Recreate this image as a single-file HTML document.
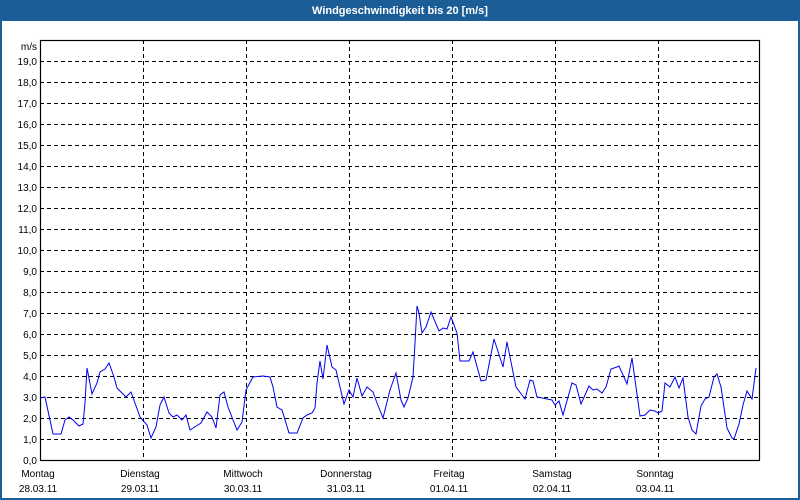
<!DOCTYPE html>
<html><head><meta charset="utf-8"><style>
html,body{margin:0;padding:0;background:#fff}
svg{display:block;font-family:"Liberation Sans",sans-serif}
</style></head><body>
<svg width="800" height="500" viewBox="0 0 800 500" xmlns="http://www.w3.org/2000/svg">
<rect x="0" y="0" width="800" height="500" fill="#1b5e97"/>
<rect x="2" y="21" width="796" height="477" fill="#fff"/>
<text x="400" y="14" fill="#fff" font-size="11" font-weight="bold" text-anchor="middle">Windgeschwindigkeit bis 20 [m/s]</text>
<g stroke="#000" stroke-width="1" stroke-dasharray="4,3" fill="none">
<path d="M40 439.5H760M40 418.5H760M40 397.5H760M40 376.5H760M40 355.5H760M40 334.5H760M40 313.5H760M40 292.5H760M40 271.5H760M40 250.5H760M40 229.5H760M40 208.5H760M40 187.5H760M40 166.5H760M40 145.5H760M40 124.5H760M40 103.5H760M40 82.5H760M40 61.5H760"/>
<path d="M143.5 40V460M246.5 40V460M349.5 40V460M452.5 40V460M555.5 40V460M658.5 40V460"/>
</g>
<rect x="40.5" y="40.5" width="719" height="420" fill="none" stroke="#000" stroke-width="1.2"/>
<g font-size="10" text-anchor="end" fill="#000">
<text x="37" y="50">m/s</text>
<text x="37" y="65">19,0</text><text x="37" y="86">18,0</text><text x="37" y="107">17,0</text><text x="37" y="128">16,0</text><text x="37" y="149">15,0</text><text x="37" y="170">14,0</text><text x="37" y="191">13,0</text><text x="37" y="212">12,0</text><text x="37" y="233">11,0</text><text x="37" y="254">10,0</text><text x="37" y="275">9,0</text><text x="37" y="296">8,0</text><text x="37" y="317">7,0</text><text x="37" y="338">6,0</text><text x="37" y="359">5,0</text><text x="37" y="380">4,0</text><text x="37" y="401">3,0</text><text x="37" y="422">2,0</text><text x="37" y="443">1,0</text><text x="37" y="464">0,0</text>
</g>
<g font-size="10" text-anchor="middle" fill="#000">
<text x="38" y="477">Montag</text><text x="38" y="492">28.03.11</text>
<text x="140" y="477">Dienstag</text><text x="140" y="492">29.03.11</text>
<text x="243" y="477">Mittwoch</text><text x="243" y="492">30.03.11</text>
<text x="346" y="477">Donnerstag</text><text x="346" y="492">31.03.11</text>
<text x="449" y="477">Freitag</text><text x="449" y="492">01.04.11</text>
<text x="552" y="477">Samstag</text><text x="552" y="492">02.04.11</text>
<text x="655" y="477">Sonntag</text><text x="655" y="492">03.04.11</text>
</g>
<polyline fill="none" stroke="#0000ee" stroke-width="1" points="40,398 45,397 53,434 61,434 65,420 69,417 73,420 79,426 83,424 85,403 87,368 88,373 92,394 97,383 100,372 105,369 109,363 114,377 117,388 126,397 131,392 135,403 140,417 147,425 151,438 156,427 160,405 164,397 169,413 173,417 177,415 182,420 186,415 190,430 201,423 207,412 212,417 216,428 220,395 224,392 228,407 237,430 242,422 246,390 253,377 263,376 270,377 273,387 277,407 282,410 289,433 297,433 303,418 307,415 312,413 315,408 317,383 320,361 323,379 327,345 332,367 336,370 340,387 344,404 349,390 353,397 357,378 362,396 367,387 373,392 377,403 383,418 390,390 396,373 401,400 404,407 408,398 413,377 415,343 417,306 419,313 422,333 426,327 431,312 439,331 443,328 447,329 451,317 457,333 460,361 469,361 473,352 481,381 486,380 494,339 503,367 507,342 516,387 525,399 530,380 533,381 537,397 552,400 555,405 559,401 563,415 572,383 576,385 581,404 589,386 593,390 597,389 602,393 606,387 611,369 617,367 619,366 627,384 632,358 640,416 645,415 650,410 655,411 658,413 662,411 665,383 670,387 675,377 679,388 683,378 688,417 692,430 696,434 701,406 705,399 709,397 714,377 717,374 721,387 727,428 732,438 734,439 739,424 743,405 747,391 752,399 756,368"/>
</svg>
</body></html>
